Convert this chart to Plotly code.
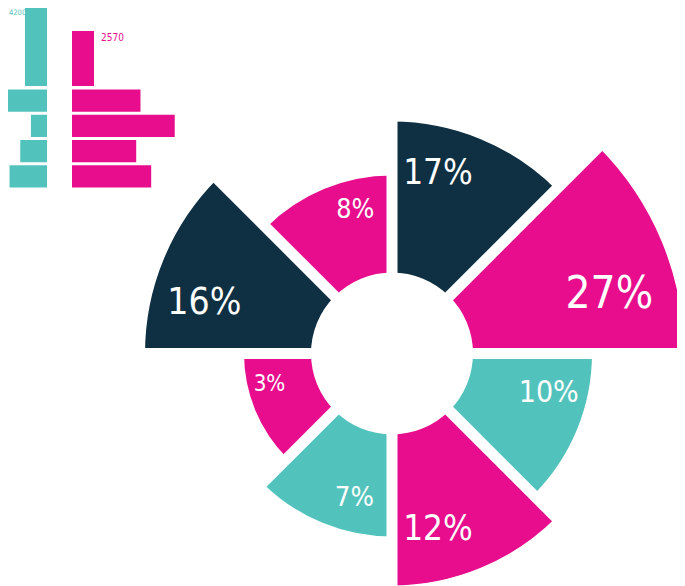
import math
import plotly.graph_objects as go

# --- data ---
pct_labels = ["27%", "17%", "8%", "16%", "3%", "7%", "12%", "10%"]
sector_len = [211, 151, 97, 166, 67, 102, 151, 119]   # length of each sector past the hole
sector_col = ["magenta", "navy", "magenta", "navy", "magenta", "teal", "magenta", "teal"]

top_labels = ["4200", "2570"]
top_values = [4200, 2570]
rows = [0, 1, 2, 3]
teal_rows = [2000, 750, 1250, 1750]
magenta_rows = [3200, 4800, 3000, 3700]

NAVY = "#0f2f42"
MAGENTA = "#e70d8d"
TEAL = "#52c3bc"
palette = {"navy": NAVY, "magenta": MAGENTA, "teal": TEAL}
FONT = "Liberation Sans Narrow, DejaVu Sans Condensed, Arial Narrow, sans-serif"

# the page keeps an 8px body margin, so everything is laid out 8px up/left
W, H = 677, 578
HOLE = 81              # radius of the empty centre
CX, CY = 384, 345.5    # centre of the ring (figure px)
R_TOP = 293            # upper half
R_BOT = H - CY         # lower half
STEP = 45
OVER = 5               # each half reaches 5 deg past the diameter (no seam)
S = math.sin(math.radians(OVER))

theta = [STEP / 2 + STEP * i for i in range(len(pct_labels))]
outer = [HOLE + v for v in sector_len]
lab_t = [t + (-8 if i % 2 == 0 else 8) for i, t in enumerate(theta)]
lab_r = [HOLE + 0.68 * v for v in sector_len]

fig = go.Figure()

# 上下兩個半圓，避免超出畫面
halves = [("polar", slice(0, 4), 0), ("polar2", slice(4, 8), 180)]
for sub, sl, a0 in halves:
    fig.add_trace(
        go.Barpolar(
            r=sector_len[sl],
            theta=theta[sl],
            base=HOLE,
            width=STEP,
            marker=dict(color=[palette[c] for c in sector_col[sl]], line=dict(width=0)),
            subplot=sub, hoverinfo="skip",
        )
    )
    # 白色分隔線
    sep_r, sep_t = [], []
    for k in range(5):
        sep_r += [0, R_TOP, None]
        sep_t += [a0 + STEP * k, a0 + STEP * k, None]
    fig.add_trace(
        go.Scatterpolar(
            r=sep_r, theta=sep_t, mode="lines",
            line=dict(color="white", width=11),
            subplot=sub, hoverinfo="skip",
        )
    )
    # 百分比文字
    fig.add_trace(
        go.Scatterpolar(
            r=lab_r[sl], theta=lab_t[sl], mode="text",
            text=pct_labels[sl],
            textfont=dict(family=FONT, color="white", size=[0.15 * o for o in outer[sl]]),
            subplot=sub, hoverinfo="skip",
        )
    )

# 左上小長條圖
SCALE = 2570 / 55   # units per pixel
w_bar = 22 / 47

fig.add_trace(go.Bar(x=teal_rows, y=rows, orientation="h", width=0.88,
                     marker=dict(color=TEAL, line=dict(width=0)),
                     xaxis="x", yaxis="y", hoverinfo="skip"))
fig.add_trace(go.Bar(x=magenta_rows, y=rows, orientation="h", width=0.88,
                     marker=dict(color=MAGENTA, line=dict(width=0)),
                     xaxis="x2", yaxis="y2", hoverinfo="skip"))
fig.add_trace(go.Bar(x=[0, 1], y=top_values, width=w_bar,
                     marker=dict(color=[TEAL, MAGENTA], line=dict(width=0)),
                     xaxis="x3", yaxis="y3", hoverinfo="skip"))

rows_dom = [1 - 181 / H, 1 - 80 / H]
hide = dict(visible=False, fixedrange=True)
cy_b = H - CY   # centre measured from the bottom


def polar_axes(r_max, sector):
    return dict(
        bgcolor="rgba(0,0,0,0)",
        sector=sector,
        radialaxis=dict(range=[0, r_max], visible=False),
        angularaxis=dict(visible=False, direction="counterclockwise", rotation=0),
    )


fig.update_layout(
    width=W, height=H, autosize=False,
    margin=dict(l=0, r=0, t=0, b=0),
    paper_bgcolor="white", plot_bgcolor="rgba(0,0,0,0)",
    showlegend=False,
    polar=dict(domain=dict(x=[(CX - R_TOP) / W, (CX + R_TOP) / W],
                           y=[(cy_b - R_TOP * S) / H, (cy_b + R_TOP) / H]),
               **polar_axes(R_TOP, [-OVER, 180 + OVER])),
    polar2=dict(domain=dict(x=[(CX - R_BOT) / W, (CX + R_BOT) / W],
                            y=[0, (cy_b + R_BOT * S) / H]),
                **polar_axes(R_BOT, [180 - OVER, 360 + OVER])),
    xaxis=dict(domain=[0, 39 / W], range=[39 * SCALE, 0], anchor="y", **hide),
    yaxis=dict(domain=rows_dom, range=[3.5, -0.5], anchor="x", **hide),
    xaxis2=dict(domain=[64 / W, 182 / W], range=[0, 118 * SCALE], anchor="y2", **hide),
    yaxis2=dict(domain=rows_dom, range=[3.5, -0.5], anchor="x2", **hide),
    xaxis3=dict(domain=[17 / W, 86 / W], range=[-w_bar / 2, 1 + w_bar / 2], anchor="y3", **hide),
    yaxis3=dict(domain=[1 - 78 / H, 1], range=[0, 78 * SCALE], anchor="x3", **hide),
    annotations=[
        dict(text=top_labels[0], xref="paper", x=0, xanchor="left", borderpad=0,
             yref="paper", y=1, yanchor="top", yshift=1, showarrow=False,
             font=dict(family=FONT, size=7.5, color=TEAL)),
        dict(text=top_labels[1], xref="x3", x=1 + w_bar / 2, xanchor="left", xshift=5,
             yref="y3", y=top_values[1], yanchor="top", yshift=1, showarrow=False,
             font=dict(family=FONT, size=10, color=MAGENTA)),
    ],
)

fig.write_html("out.html")
